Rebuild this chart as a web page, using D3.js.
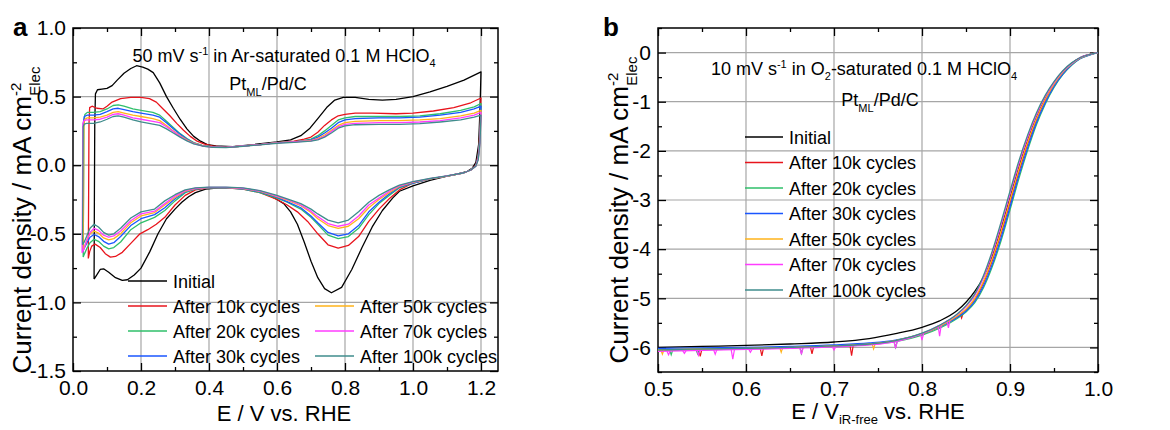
<!DOCTYPE html>
<html><head><meta charset="utf-8">
<script src="https://cdn.jsdelivr.net/npm/d3@7"></script>
<style>
body{margin:0;background:#fff}
svg{display:block}
text{font-family:Arial,"Liberation Sans",Helvetica,sans-serif;fill:#000}
</style>
</head><body>
<svg id="chart" width="1170" height="430"></svg>
<script>
// ---------------- DATA ----------------
const seriesNames = ["Initial","After 10k cycles","After 20k cycles","After 30k cycles","After 50k cycles","After 70k cycles","After 100k cycles"];
const seriesColors = ["#000000","#e8141c","#2fbf6a","#1a56ff","#ffb31a","#ff3cff","#3f8c8c"];

// Panel a: cyclic voltammograms, [E (V vs RHE), j (mA cm-2)] (anodic then cathodic sweep)
const cvInitial = [[0.062,-0.83],[0.063,-0.2],[0.064,0.3],[0.066,0.52],[0.072,0.55],[0.085,0.555],[0.1,0.56],[0.115,0.58],[0.13,0.62],[0.15,0.67],[0.17,0.705],[0.187,0.725],[0.205,0.715],[0.22,0.70],[0.236,0.675],[0.255,0.60],[0.275,0.50],[0.295,0.415],[0.315,0.335],[0.335,0.265],[0.355,0.21],[0.375,0.175],[0.395,0.15],[0.42,0.14],[0.47,0.135],[0.53,0.15],[0.6,0.17],[0.64,0.185],[0.67,0.215],[0.697,0.27],[0.72,0.34],[0.746,0.42],[0.77,0.475],[0.795,0.495],[0.83,0.495],[0.87,0.48],[0.91,0.475],[0.95,0.48],[1.0,0.5],[1.05,0.535],[1.1,0.575],[1.15,0.62],[1.2,0.68],
  [1.197,0.4],[1.193,0.15],[1.185,0.02],[1.175,-0.02],[1.16,-0.045],[1.13,-0.065],[1.1,-0.08],[1.05,-0.11],[1.0,-0.15],[0.96,-0.19],[0.94,-0.24],[0.91,-0.33],[0.88,-0.45],[0.85,-0.6],[0.82,-0.76],[0.79,-0.89],[0.76,-0.93],[0.74,-0.9],[0.72,-0.82],[0.70,-0.70],[0.68,-0.56],[0.66,-0.43],[0.64,-0.34],[0.62,-0.28],[0.6,-0.25],[0.57,-0.21],[0.53,-0.18],[0.48,-0.165],[0.43,-0.165],[0.39,-0.175],[0.36,-0.2],[0.34,-0.23],[0.32,-0.27],[0.3,-0.32],[0.275,-0.39],[0.25,-0.5],[0.226,-0.63],[0.2,-0.75],[0.18,-0.8],[0.16,-0.835],[0.145,-0.84],[0.125,-0.82],[0.105,-0.78],[0.09,-0.755],[0.08,-0.76],[0.07,-0.8],[0.062,-0.83]];
const cv10k = [[0.045,-0.68],[0.046,-0.2],[0.047,0.3],[0.049,0.42],[0.056,0.43],[0.07,0.415],[0.088,0.41],[0.1,0.43],[0.115,0.46],[0.14,0.485],[0.17,0.495],[0.2,0.495],[0.225,0.485],[0.245,0.46],[0.265,0.41],[0.285,0.36],[0.305,0.305],[0.325,0.255],[0.345,0.21],[0.365,0.175],[0.385,0.155],[0.41,0.14],[0.45,0.13],[0.5,0.14],[0.55,0.15],[0.6,0.165],[0.65,0.175],[0.68,0.19],[0.7,0.205],[0.72,0.24],[0.74,0.29],[0.76,0.33],[0.78,0.36],[0.8,0.37],[0.83,0.38],[0.88,0.38],[0.95,0.375],[1.0,0.38],[1.06,0.395],[1.12,0.42],[1.17,0.455],[1.2,0.49],
  [1.197,0.25],[1.192,0.08],[1.185,0.0],[1.17,-0.035],[1.15,-0.055],[1.1,-0.08],[1.05,-0.1],[1.0,-0.13],[0.96,-0.18],[0.93,-0.245],[0.9,-0.32],[0.87,-0.41],[0.84,-0.52],[0.81,-0.585],[0.78,-0.605],[0.75,-0.58],[0.72,-0.5],[0.69,-0.41],[0.66,-0.34],[0.63,-0.29],[0.6,-0.25],[0.55,-0.2],[0.5,-0.175],[0.45,-0.165],[0.4,-0.165],[0.36,-0.18],[0.33,-0.22],[0.3,-0.29],[0.27,-0.38],[0.245,-0.43],[0.22,-0.47],[0.197,-0.5],[0.17,-0.57],[0.145,-0.635],[0.125,-0.665],[0.11,-0.67],[0.095,-0.645],[0.08,-0.6],[0.065,-0.575],[0.055,-0.59],[0.049,-0.63],[0.045,-0.68]];
const cv20k = [[0.03,-0.67],[0.031,-0.2],[0.032,0.3],[0.035,0.37],[0.042,0.385],[0.06,0.385],[0.08,0.39],[0.1,0.41],[0.118,0.435],[0.133,0.44],[0.15,0.43],[0.176,0.41],[0.2,0.40],[0.235,0.385],[0.255,0.365],[0.275,0.32],[0.295,0.275],[0.315,0.23],[0.335,0.195],[0.355,0.165],[0.38,0.145],[0.41,0.135],[0.45,0.13],[0.5,0.14],[0.55,0.15],[0.6,0.165],[0.65,0.17],[0.68,0.18],[0.7,0.19],[0.72,0.215],[0.74,0.25],[0.76,0.29],[0.78,0.33],[0.8,0.345],[0.83,0.355],[0.9,0.355],[0.96,0.355],[1.02,0.36],[1.08,0.375],[1.14,0.4],[1.18,0.425],[1.2,0.45],
  [1.197,0.22],[1.192,0.07],[1.185,-0.005],[1.17,-0.035],[1.15,-0.055],[1.1,-0.08],[1.05,-0.1],[1.0,-0.13],[0.96,-0.165],[0.93,-0.22],[0.9,-0.28],[0.87,-0.36],[0.84,-0.46],[0.81,-0.52],[0.78,-0.535],[0.75,-0.51],[0.72,-0.43],[0.7,-0.38],[0.67,-0.32],[0.63,-0.27],[0.6,-0.24],[0.55,-0.2],[0.5,-0.175],[0.45,-0.165],[0.4,-0.165],[0.36,-0.175],[0.33,-0.2],[0.3,-0.26],[0.27,-0.33],[0.24,-0.38],[0.2,-0.42],[0.17,-0.47],[0.14,-0.56],[0.12,-0.6],[0.105,-0.61],[0.09,-0.59],[0.075,-0.555],[0.062,-0.54],[0.05,-0.565],[0.04,-0.61],[0.033,-0.65],[0.03,-0.67]];
const cv30k = [[0.028,-0.63],[0.029,-0.2],[0.03,0.3],[0.033,0.355],[0.042,0.365],[0.06,0.365],[0.08,0.37],[0.1,0.39],[0.118,0.41],[0.133,0.415],[0.15,0.405],[0.176,0.39],[0.2,0.38],[0.235,0.365],[0.255,0.35],[0.275,0.31],[0.295,0.265],[0.315,0.225],[0.335,0.19],[0.355,0.162],[0.38,0.143],[0.41,0.133],[0.45,0.13],[0.5,0.14],[0.55,0.15],[0.6,0.165],[0.65,0.17],[0.7,0.185],[0.72,0.205],[0.74,0.235],[0.76,0.27],[0.78,0.31],[0.8,0.33],[0.83,0.34],[0.9,0.345],[0.96,0.345],[1.02,0.35],[1.08,0.365],[1.14,0.385],[1.18,0.41],[1.2,0.43],
  [1.197,0.2],[1.192,0.06],[1.185,-0.005],[1.17,-0.035],[1.15,-0.055],[1.1,-0.08],[1.05,-0.1],[1.0,-0.13],[0.96,-0.16],[0.93,-0.21],[0.9,-0.27],[0.87,-0.34],[0.84,-0.44],[0.81,-0.50],[0.78,-0.515],[0.75,-0.49],[0.72,-0.42],[0.7,-0.37],[0.67,-0.31],[0.63,-0.265],[0.6,-0.235],[0.55,-0.195],[0.5,-0.172],[0.45,-0.165],[0.4,-0.165],[0.36,-0.172],[0.33,-0.195],[0.3,-0.245],[0.27,-0.31],[0.24,-0.36],[0.2,-0.39],[0.17,-0.44],[0.14,-0.52],[0.12,-0.565],[0.105,-0.575],[0.09,-0.555],[0.075,-0.52],[0.062,-0.505],[0.05,-0.525],[0.04,-0.57],[0.032,-0.61],[0.028,-0.63]];
const cv50k = [[0.03,-0.62],[0.031,-0.2],[0.032,0.3],[0.035,0.335],[0.042,0.345],[0.06,0.345],[0.08,0.35],[0.1,0.365],[0.118,0.385],[0.133,0.39],[0.15,0.38],[0.176,0.365],[0.2,0.355],[0.235,0.34],[0.255,0.325],[0.275,0.29],[0.295,0.25],[0.315,0.215],[0.335,0.185],[0.355,0.16],[0.38,0.142],[0.41,0.132],[0.45,0.13],[0.5,0.14],[0.55,0.15],[0.6,0.165],[0.65,0.17],[0.7,0.18],[0.72,0.195],[0.74,0.22],[0.76,0.255],[0.78,0.29],[0.8,0.31],[0.83,0.32],[0.9,0.325],[0.96,0.325],[1.02,0.33],[1.08,0.34],[1.14,0.36],[1.18,0.38],[1.2,0.40],
  [1.197,0.18],[1.192,0.05],[1.185,-0.005],[1.17,-0.035],[1.15,-0.055],[1.1,-0.08],[1.05,-0.1],[1.0,-0.125],[0.96,-0.155],[0.93,-0.2],[0.9,-0.25],[0.87,-0.31],[0.84,-0.39],[0.81,-0.445],[0.78,-0.46],[0.75,-0.44],[0.72,-0.39],[0.7,-0.345],[0.67,-0.295],[0.63,-0.255],[0.6,-0.23],[0.55,-0.19],[0.5,-0.17],[0.45,-0.163],[0.4,-0.163],[0.36,-0.17],[0.33,-0.19],[0.3,-0.235],[0.27,-0.29],[0.24,-0.345],[0.2,-0.37],[0.17,-0.42],[0.14,-0.5],[0.12,-0.535],[0.105,-0.545],[0.09,-0.53],[0.075,-0.495],[0.062,-0.48],[0.05,-0.5],[0.04,-0.55],[0.033,-0.6],[0.03,-0.62]];
const cv70k = [[0.027,-0.64],[0.028,-0.2],[0.029,0.3],[0.032,0.325],[0.04,0.33],[0.06,0.33],[0.08,0.335],[0.1,0.35],[0.118,0.37],[0.133,0.375],[0.15,0.365],[0.176,0.345],[0.2,0.335],[0.235,0.32],[0.255,0.31],[0.275,0.28],[0.295,0.245],[0.315,0.21],[0.335,0.18],[0.355,0.158],[0.38,0.14],[0.41,0.132],[0.45,0.13],[0.5,0.14],[0.55,0.15],[0.6,0.163],[0.65,0.17],[0.7,0.178],[0.72,0.19],[0.74,0.21],[0.76,0.245],[0.78,0.28],[0.8,0.298],[0.83,0.305],[0.9,0.31],[0.96,0.31],[1.02,0.315],[1.08,0.325],[1.14,0.345],[1.18,0.365],[1.2,0.385],
  [1.197,0.17],[1.192,0.05],[1.185,-0.005],[1.17,-0.035],[1.15,-0.055],[1.1,-0.078],[1.05,-0.098],[1.0,-0.122],[0.96,-0.15],[0.93,-0.19],[0.9,-0.24],[0.87,-0.29],[0.84,-0.37],[0.81,-0.43],[0.78,-0.445],[0.75,-0.425],[0.72,-0.375],[0.7,-0.335],[0.67,-0.29],[0.63,-0.25],[0.6,-0.225],[0.55,-0.188],[0.5,-0.168],[0.45,-0.162],[0.4,-0.162],[0.36,-0.168],[0.33,-0.185],[0.3,-0.225],[0.27,-0.28],[0.24,-0.335],[0.2,-0.355],[0.17,-0.405],[0.14,-0.48],[0.12,-0.515],[0.105,-0.525],[0.09,-0.51],[0.075,-0.475],[0.062,-0.46],[0.05,-0.49],[0.04,-0.55],[0.032,-0.61],[0.027,-0.64]];
const cv100k = [[0.028,-0.58],[0.029,-0.2],[0.03,0.28],[0.033,0.3],[0.04,0.305],[0.06,0.305],[0.08,0.315],[0.1,0.335],[0.118,0.355],[0.133,0.36],[0.15,0.35],[0.176,0.33],[0.2,0.315],[0.235,0.30],[0.255,0.29],[0.275,0.265],[0.295,0.235],[0.315,0.205],[0.335,0.177],[0.355,0.155],[0.38,0.14],[0.41,0.13],[0.45,0.128],[0.5,0.138],[0.55,0.148],[0.6,0.16],[0.65,0.167],[0.7,0.175],[0.72,0.185],[0.74,0.205],[0.76,0.235],[0.78,0.27],[0.8,0.287],[0.83,0.295],[0.9,0.298],[0.96,0.298],[1.02,0.303],[1.08,0.315],[1.14,0.33],[1.18,0.35],[1.2,0.365],
  [1.197,0.16],[1.192,0.04],[1.185,-0.005],[1.17,-0.035],[1.15,-0.055],[1.1,-0.078],[1.05,-0.097],[1.0,-0.12],[0.96,-0.145],[0.93,-0.18],[0.9,-0.22],[0.87,-0.27],[0.84,-0.34],[0.81,-0.40],[0.78,-0.42],[0.75,-0.40],[0.72,-0.355],[0.7,-0.32],[0.67,-0.28],[0.63,-0.245],[0.6,-0.22],[0.55,-0.185],[0.5,-0.166],[0.45,-0.16],[0.4,-0.16],[0.36,-0.165],[0.33,-0.18],[0.3,-0.215],[0.27,-0.26],[0.24,-0.32],[0.2,-0.34],[0.17,-0.385],[0.14,-0.46],[0.12,-0.5],[0.105,-0.51],[0.09,-0.49],[0.075,-0.45],[0.062,-0.43],[0.05,-0.46],[0.04,-0.52],[0.032,-0.565],[0.028,-0.58]];

// Panel b: ORR polarization curves on a common potential grid
const orrE = [0.5,0.55,0.6,0.65,0.7,0.74,0.77,0.8,0.82,0.84,0.85,0.86,0.87,0.88,0.89,0.9,0.91,0.92,0.93,0.94,0.95,0.96,0.97,0.98,0.99,1.0];
const orrInitial = [-6.00,-5.98,-5.96,-5.93,-5.89,-5.82,-5.72,-5.59,-5.46,-5.25,-5.08,-4.86,-4.56,-4.13,-3.57,-2.95,-2.33,-1.78,-1.31,-0.93,-0.62,-0.39,-0.22,-0.10,-0.04,0.00];
const orr10k   = [-6.05,-6.04,-6.02,-6.00,-5.97,-5.93,-5.86,-5.73,-5.58,-5.37,-5.23,-5.02,-4.68,-4.22,-3.67,-3.05,-2.43,-1.86,-1.37,-0.97,-0.66,-0.41,-0.24,-0.11,-0.04,0.00];
const orr20k   = [-6.06,-6.05,-6.03,-6.01,-5.98,-5.94,-5.88,-5.75,-5.61,-5.41,-5.28,-5.09,-4.78,-4.35,-3.82,-3.20,-2.57,-1.99,-1.47,-1.05,-0.71,-0.45,-0.26,-0.12,-0.05,0.00];
const orr30k   = [-6.02,-6.01,-6.00,-5.98,-5.95,-5.91,-5.85,-5.72,-5.58,-5.39,-5.26,-5.06,-4.74,-4.30,-3.76,-3.14,-2.51,-1.94,-1.43,-1.02,-0.69,-0.44,-0.25,-0.12,-0.05,0.00];
const orr50k   = [-6.05,-6.03,-6.02,-6.00,-5.97,-5.93,-5.86,-5.72,-5.57,-5.36,-5.22,-5.00,-4.65,-4.18,-3.62,-3.00,-2.38,-1.82,-1.34,-0.95,-0.64,-0.40,-0.23,-0.11,-0.04,0.00];
const orr70k   = [-6.08,-6.06,-6.04,-6.02,-5.99,-5.95,-5.88,-5.72,-5.55,-5.33,-5.17,-4.94,-4.57,-4.08,-3.50,-2.88,-2.27,-1.73,-1.27,-0.90,-0.61,-0.38,-0.22,-0.10,-0.04,0.00];
const orr100k  = [-6.05,-6.03,-6.02,-6.00,-5.97,-5.93,-5.86,-5.71,-5.55,-5.32,-5.15,-4.91,-4.53,-4.03,-3.44,-2.82,-2.21,-1.68,-1.23,-0.87,-0.59,-0.37,-0.21,-0.10,-0.04,0.00];
// noise spikes: [E, base j, tip j]
const spikesInitial = [];
const spikes10k  = [[0.548,-6.04,-6.18],[0.618,-6.02,-6.17],[0.675,-5.99,-6.13],[0.72,-5.96,-6.17],[0.845,-5.30,-5.40]];
const spikes20k  = [[0.515,-6.05,-6.15],[0.545,-6.05,-6.13],[0.663,-6.0,-6.12],[0.77,-5.88,-6.0]];
const spikes30k  = [];
const spikes50k  = [[0.505,-6.05,-6.14],[0.64,-6.0,-6.1],[0.745,-5.92,-6.03]];
const spikes70k  = [[0.512,-6.08,-6.15],[0.53,-6.07,-6.12],[0.546,-6.06,-6.16],[0.565,-6.05,-6.14],[0.585,-6.05,-6.24],[0.605,-6.04,-6.1],[0.663,-6.01,-6.14],[0.7,-5.99,-6.05],[0.77,-5.88,-6.02],[0.8,-5.72,-5.85],[0.82,-5.55,-5.77],[0.83,-5.45,-5.6]];
const spikes100k = [];

// Axis ticks
const aXTicks = [0.0,0.2,0.4,0.6,0.8,1.0,1.2];
const aXMinor = [0.1,0.3,0.5,0.7,0.9,1.1];
const aYTicks = [-1.5,-1.0,-0.5,0.0,0.5,1.0];
const aYMinor = [-1.25,-0.75,-0.25,0.25,0.75];
const bXTicks = [0.5,0.6,0.7,0.8,0.9,1.0];
const bXMinor = [0.55,0.65,0.75,0.85,0.95];
const bYTicks = [-6,-5,-4,-3,-2,-1,0];
const bYMinor = [-6.5,-5.5,-4.5,-3.5,-2.5,-1.5,-0.5,0.5];

// ---------------- DRAW ----------------
const svg = d3.select("#chart");
const FONT = 'Arial,"Liberation Sans",Helvetica,sans-serif';

function drawFrame(g, x, y, xt, xm, yt, ym, xf, yf) {
  const [x0,x1] = x.range(), [y0,y1] = y.range(); // y0 bottom
  g.append("g").selectAll("line").data(xt.filter(v => x(v) > x0+1 && x(v) < x1-1)).join("line")
    .attr("x1", d=>x(d)).attr("x2", d=>x(d)).attr("y1", y0).attr("y2", y1)
    .attr("stroke","#a6a6a6").attr("stroke-width",1.2);
  g.append("g").selectAll("line").data(yt.filter(v => y(v) < y0-1 && y(v) > y1+1)).join("line")
    .attr("y1", d=>y(d)).attr("y2", d=>y(d)).attr("x1", x0).attr("x2", x1)
    .attr("stroke","#a6a6a6").attr("stroke-width",1.2);
  const style = sel => { sel.select(".domain").remove(); sel.selectAll("line").attr("stroke","#000").attr("stroke-width",1.3);
    sel.selectAll("text").style("font-size","21px").style("font-family",FONT).attr("fill","#000"); };
  g.append("g").attr("transform",`translate(0,${y0})`).call(d3.axisBottom(x).tickValues(xt).tickSize(-8).tickPadding(9).tickFormat(xf)).call(style);
  g.append("g").attr("transform",`translate(0,${y0})`).call(d3.axisBottom(x).tickValues(xm).tickSize(-4).tickFormat("")).call(style);
  g.append("g").attr("transform",`translate(0,${y1})`).call(d3.axisTop(x).tickValues(xt).tickSize(-8).tickFormat("")).call(style);
  g.append("g").attr("transform",`translate(0,${y1})`).call(d3.axisTop(x).tickValues(xm).tickSize(-4).tickFormat("")).call(style);
  g.append("g").attr("transform",`translate(${x0},0)`).call(d3.axisLeft(y).tickValues(yt).tickSize(-8).tickPadding(7).tickFormat(yf)).call(style);
  g.append("g").attr("transform",`translate(${x0},0)`).call(d3.axisLeft(y).tickValues(ym).tickSize(-4).tickFormat("")).call(style);
  g.append("g").attr("transform",`translate(${x1},0)`).call(d3.axisRight(y).tickValues(yt).tickSize(-8).tickFormat("")).call(style);
  g.append("g").attr("transform",`translate(${x1},0)`).call(d3.axisRight(y).tickValues(ym).tickSize(-4).tickFormat("")).call(style);
  g.append("rect").attr("x",x0).attr("y",y1).attr("width",x1-x0).attr("height",y0-y1)
    .attr("fill","none").attr("stroke","#000").attr("stroke-width",1.5);
}

function yTitle(g, cx, cy) {
  const t = g.append("text").attr("transform",`translate(${cx},${cy}) rotate(-90)`)
    .attr("text-anchor","middle").style("font-size","26px");
  t.append("tspan").text("Current density / mA cm");
  t.append("tspan").attr("dy",-10).style("font-size","15px").text("-2");
  t.append("tspan").attr("dx",-13).attr("dy",19).style("font-size","15px").text("Elec");
}

// ---- Panel a ----
const xa = d3.scaleLinear().domain([0,1.25]).range([73,498]);
const ya = d3.scaleLinear().domain([-1.5,1.0]).range([371,28]);
const ga = svg.append("g");
drawFrame(ga, xa, ya, aXTicks, aXMinor, aYTicks, aYMinor, d=>d.toFixed(1), d=>d.toFixed(1));
const cvSeries = [cvInitial, cv10k, cv20k, cv30k, cv50k, cv70k, cv100k];
const lineA = d3.line().x(d=>xa(d[0])).y(d=>ya(d[1]));
ga.append("g").selectAll("path").data(cvSeries).join("path")
  .attr("d", lineA).attr("fill","none").attr("stroke",(d,i)=>seriesColors[i]).attr("stroke-width",1.3)
  .attr("stroke-linejoin","round");

// legend a
const legA = [[128,281],[128,306],[128,331],[128,356],[315,306],[315,331],[315,356]];
seriesNames.forEach((n,i) => {
  const [lx,ly] = legA[i];
  ga.append("line").attr("x1",lx).attr("x2",lx+39).attr("y1",ly).attr("y2",ly).attr("stroke",seriesColors[i]).attr("stroke-width",1.3);
  ga.append("text").attr("x",lx+45).attr("y",ly+6.5).style("font-size","18px").text(n);
});
// annotations a
{
  const t = ga.append("text").attr("x",284).attr("y",62).attr("text-anchor","middle").style("font-size","18px");
  t.append("tspan").text("50 mV s");
  t.append("tspan").attr("dy",-7).style("font-size","11px").text("-1");
  t.append("tspan").attr("dy",7).text(" in Ar-saturated 0.1 M HClO");
  t.append("tspan").attr("dy",5).style("font-size","11px").text("4");
  const p = ga.append("text").attr("x",268).attr("y",90).attr("text-anchor","middle").style("font-size","18px");
  p.append("tspan").text("Pt");
  p.append("tspan").attr("dy",6).style("font-size","11px").text("ML");
  p.append("tspan").attr("dy",-6).text("/Pd/C");
}
ga.append("text").attr("x",284).attr("y",421).attr("text-anchor","middle").style("font-size","22px").text("E / V vs. RHE");
yTitle(ga, 31, 220);
ga.append("text").attr("x",13).attr("y",36).style("font-size","26px").style("font-weight","bold").text("a");

// ---- Panel b ----
const xb = d3.scaleLinear().domain([0.5,1.0]).range([658,1098]);
const yb = d3.scaleLinear().domain([-6.5,0.5]).range([372,28]);
const gb = svg.append("g");
drawFrame(gb, xb, yb, bXTicks, bXMinor, bYTicks, bYMinor, d=>d.toFixed(1), d=>String(d));
const orrSeries = [orrInitial, orr10k, orr20k, orr30k, orr50k, orr70k, orr100k];
const spikeSeries = [spikesInitial, spikes10k, spikes20k, spikes30k, spikes50k, spikes70k, spikes100k];
const lineB = d3.line().x(d=>xb(d[0])).y(d=>yb(d[1])).curve(d3.curveMonotoneX);
orrSeries.forEach((vals,i) => {
  const pts = orrE.map((e,k)=>[e, vals[k]]);
  gb.append("path").attr("d", lineB(pts)).attr("fill","none").attr("stroke",seriesColors[i]).attr("stroke-width",1.3);
  gb.append("g").selectAll("path").data(spikeSeries[i]).join("path")
    .attr("d", s => d3.line()([[xb(s[0]-0.0018), yb(s[1])],[xb(s[0]), yb(s[2])],[xb(s[0]+0.0018), yb(s[1])]]))
    .attr("fill","none").attr("stroke",seriesColors[i]).attr("stroke-width",1.2);
});
// legend b
seriesNames.forEach((n,i) => {
  const ly = 137 + i*25.5;
  gb.append("line").attr("x1",745).attr("x2",783).attr("y1",ly).attr("y2",ly).attr("stroke",seriesColors[i]).attr("stroke-width",1.3);
  gb.append("text").attr("x",789).attr("y",ly+6.5).style("font-size","18px").text(n);
});
{
  const t = gb.append("text").attr("x",864).attr("y",75).attr("text-anchor","middle").style("font-size","18px");
  t.append("tspan").text("10 mV s");
  t.append("tspan").attr("dy",-7).style("font-size","11px").text("-1");
  t.append("tspan").attr("dy",7).text(" in O");
  t.append("tspan").attr("dy",5).style("font-size","11px").text("2");
  t.append("tspan").attr("dy",-5).text("-saturated 0.1 M HClO");
  t.append("tspan").attr("dy",5).style("font-size","11px").text("4");
  const p = gb.append("text").attr("x",880).attr("y",106).attr("text-anchor","middle").style("font-size","18px");
  p.append("tspan").text("Pt");
  p.append("tspan").attr("dy",6).style("font-size","11px").text("ML");
  p.append("tspan").attr("dy",-6).text("/Pd/C");
}
{
  const t = gb.append("text").attr("x",878).attr("y",419).attr("text-anchor","middle").style("font-size","22px");
  t.append("tspan").text("E / V");
  t.append("tspan").attr("dy",5).style("font-size","13px").text("iR-free");
  t.append("tspan").attr("dy",-5).text(" vs. RHE");
}
yTitle(gb, 628, 210);
gb.append("text").attr("x",603).attr("y",36).style("font-size","26px").style("font-weight","bold").text("b");
</script>
</body></html>
